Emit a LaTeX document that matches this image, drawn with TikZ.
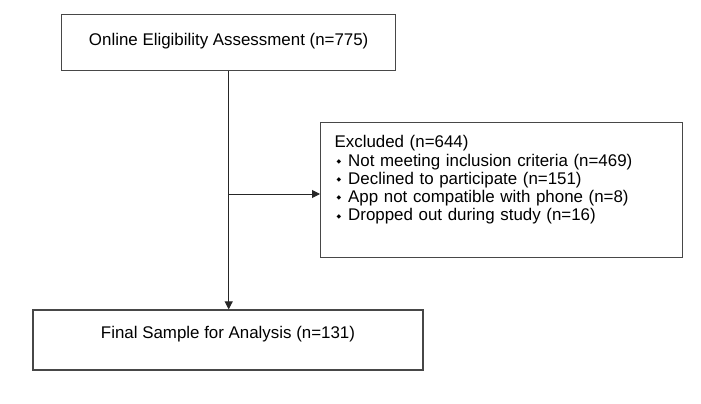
\documentclass[tikz,border=0pt]{standalone}
\usepackage{fontspec}
\setmainfont{Liberation Sans}
\newfontfamily\bulletfont{DejaVu Sans}
\usepackage{tikz}
\usetikzlibrary{positioning,arrows.meta}

\newcommand{\flowbullet}{\hspace*{2pt}\raisebox{2.6pt}{\bulletfont\fontsize{6}{6}\selectfont ◆}\hspace{7pt}}

\begin{document}
\begin{tikzpicture}[x=1pt,y=-1pt,
	font=\fontsize{16.9}{18.2}\selectfont,
	box/.style={draw=black!72, line width=1.2pt, rectangle, inner sep=0pt},
	flow/.style={draw=black!85, line width=1pt, -{Triangle[length=8pt,width=8pt]}}]
		\useasboundingbox (0,0) rectangle (701,404);

		%% Boxes of the flow
		\node[box, minimum width=334pt, minimum height=56pt, text depth=6pt] (online) at (228.7,42.3)
		{Online Eligibility Assessment (n=775)};
		\node[box, minimum width=390pt, minimum height=60pt, text depth=14.6pt] (final) at (228,340)
		{Final Sample for Analysis (n=131)};

		% Excluded participants
		\node[box, anchor=north west, text width=334pt, align=left, inner xsep=14pt,
			inner ysep=0pt, text height=25.2pt, text depth=109.8pt] (excluded) at (320,122)
		{Excluded (n=644)\\
		\flowbullet Not meeting inclusion criteria (n=469)\\
		\flowbullet Declined to participate (n=151)\\
		\flowbullet App not compatible with phone (n=8)\\
		\flowbullet Dropped out during study (n=16)};

		%% Arrows
		\coordinate (level) at (0,194);
		\coordinate (branch) at (online.south |- level);
		\draw[flow] (online.south) -- (online.south |- final.north);
		\draw[flow] (branch) -- (branch -| excluded.west);
	\end{tikzpicture}
\end{document}
